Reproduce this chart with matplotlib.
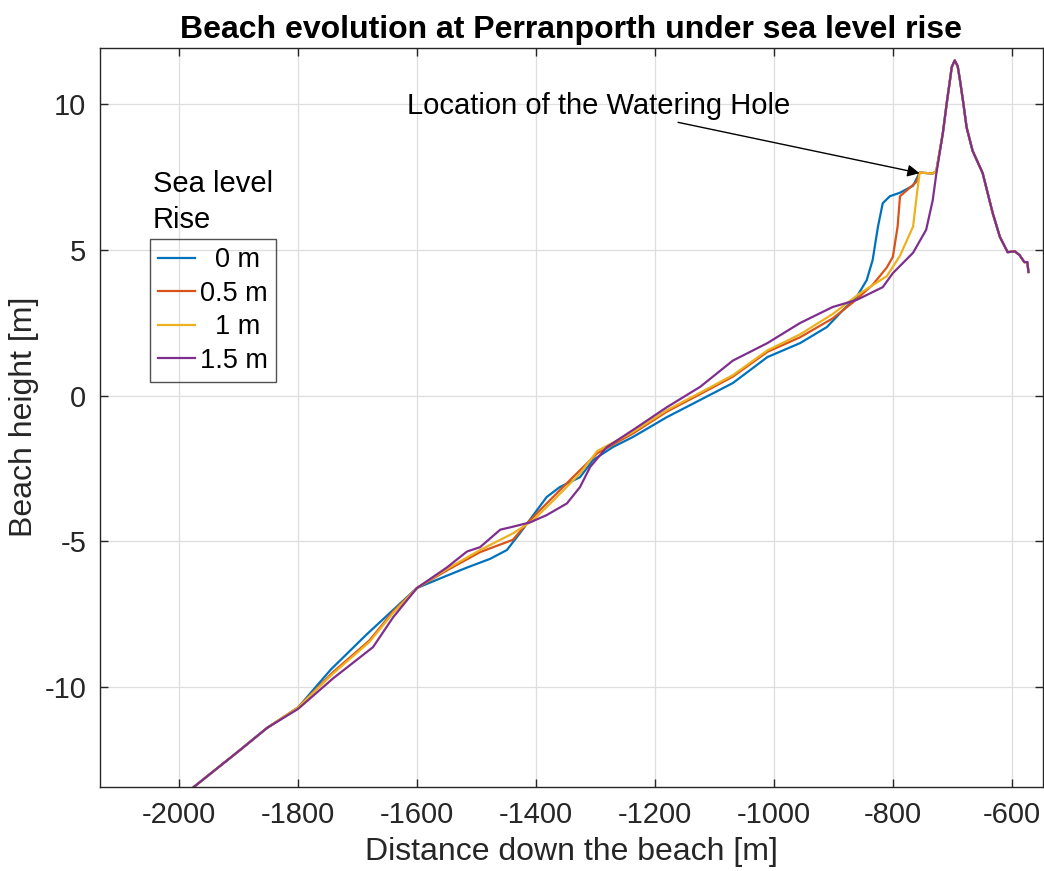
import numpy as np
import matplotlib
matplotlib.use('Agg')
import matplotlib.pyplot as plt

plt.rcParams['font.family'] = ['Liberation Sans', 'DejaVu Sans']
plt.rcParams['axes.unicode_minus'] = False

# profile shared by every run landward of the watering hole
tail_x = [-716, -709, -704, -701, -696, -691, -687, -682, -676, -666, -649, -632, -620, -607, -595, -587, -579, -574, -572]
tail_y = [9.0, 10.1, 10.82, 11.27, 11.5, 11.3, 10.8, 10.1, 9.2, 8.4, 7.63, 6.25, 5.44, 4.92, 4.95, 4.82, 4.58, 4.58, 4.24]

# 0 m
x0 = [-1992, -1900, -1852, -1800, -1745, -1685, -1640, -1600, -1556, -1516, -1477, -1449, -1427, -1402,
      -1382, -1360, -1326, -1304, -1271, -1237, -1180, -1124, -1069, -1011, -956, -911, -884, -861,
      -844, -834, -825, -817, -805, -788, -766, -755, -733, -727]
y0 = [-13.7, -12.2, -11.4, -10.7, -9.4, -8.2, -7.35, -6.6, -6.23, -5.9, -5.6, -5.3, -4.72, -4.03,
      -3.48, -3.14, -2.8, -2.21, -1.77, -1.42, -0.74, -0.15, 0.43, 1.32, 1.8, 2.35, 2.93, 3.38,
      3.96, 4.65, 5.8, 6.6, 6.84, 6.96, 7.2, 7.65, 7.62, 7.7]

# 0.5 m
x05 = [-1992, -1900, -1852, -1800, -1742, -1680, -1640, -1600, -1550, -1494, -1439, -1415, -1382, -1338,
       -1297, -1237, -1180, -1124, -1069, -1011, -956, -901, -867, -834, -810, -800, -792, -788,
       -771, -760, -755, -733, -727]
y05 = [-13.7, -12.2, -11.4, -10.7, -9.5, -8.4, -7.4, -6.6, -6.0, -5.37, -4.95, -4.38, -3.7, -2.8,
       -1.98, -1.3, -0.55, 0.05, 0.65, 1.5, 2.0, 2.65, 3.2, 3.8, 4.4, 4.76, 5.8, 6.84,
       7.14, 7.34, 7.65, 7.62, 7.7]

# 1 m
x1 = [-1992, -1900, -1852, -1800, -1742, -1680, -1640, -1600, -1550, -1494, -1439, -1405, -1371, -1326,
      -1297, -1237, -1180, -1124, -1069, -1011, -956, -901, -856, -810, -788, -766, -760, -755,
      -733, -727]
y1 = [-13.7, -12.2, -11.4, -10.7, -9.55, -8.45, -7.45, -6.6, -5.95, -5.3, -4.73, -4.28, -3.6, -2.67,
      -1.9, -1.25, -0.5, 0.1, 0.7, 1.55, 2.1, 2.8, 3.5, 4.1, 4.8, 5.8, 6.84, 7.65,
      7.62, 7.7]

# 1.5 m
x15 = [-1992, -1900, -1852, -1800, -1741, -1674, -1640, -1600, -1550, -1516, -1494, -1460, -1439, -1410,
       -1382, -1348, -1326, -1309, -1281, -1237, -1180, -1124, -1069, -1011, -956, -901, -861, -817,
       -800, -766, -744, -733, -727]
y15 = [-13.7, -12.2, -11.4, -10.75, -9.7, -8.63, -7.6, -6.6, -5.9, -5.35, -5.2, -4.6, -4.5, -4.35,
       -4.1, -3.7, -3.14, -2.45, -1.77, -1.18, -0.4, 0.3, 1.2, 1.8, 2.49, 3.04, 3.28, 3.72,
       4.2, 4.9, 5.69, 6.7, 7.6]

labels = ['  0 m', '0.5 m', '  1 m', '1.5 m']
colors = ['#0072BD', '#D95319', '#EDB120', '#7E2F8E']
runs = [(x0, y0), (x05, y05), (x1, y1), (x15, y15)]

fig = plt.figure(figsize=(10.44, 8.71), dpi=100)
ax = fig.add_axes([0.0958, 0.0964, 0.903, 0.849])

for (x, y), c, lab in zip(runs, colors, labels):
    ax.plot(x + tail_x, y + tail_y, color=c, lw=1.6, label=lab)

ax.set_xlim(-2133, -548)
ax.set_ylim(-13.43, 11.94)
ax.set_xticks(np.arange(-2000, -599, 200))
ax.set_yticks([-10, -5, 0, 5, 10])
ax.grid(True, color='#dedede', lw=0.9)
ax.set_axisbelow(True)
ax.tick_params(direction='in', length=6, width=1, top=True, right=True,
               labelsize=21, colors='#262626', pad=10)
for s in ax.spines.values():
    s.set_color('#262626')
    s.set_linewidth(1.0)

ax.set_xlabel('Distance down the beach [m]', fontsize=23, color='#262626', labelpad=6)
ax.set_ylabel('Beach height [m]', fontsize=23, color='#262626', labelpad=4)
ax.set_title('Beach evolution at Perranporth under sea level rise', fontsize=23,
             fontweight='bold', pad=7)

ax.annotate('Location of the Watering Hole', xy=(-755, 7.63), xytext=(-973, 9.95),
            ha='right', va='center', fontsize=21,
            arrowprops=dict(arrowstyle='-|>', color='k', lw=1, mutation_scale=18,
                            shrinkA=0, shrinkB=0))

leg = ax.legend(loc='upper left', bbox_to_anchor=(150 / 1044, 1 - 239 / 871),
                bbox_transform=fig.transFigure, fontsize=19.5, frameon=True,
                fancybox=False, handlelength=1.35, handletextpad=0.2,
                labelspacing=0.28, borderpad=0.3, borderaxespad=0)
leg.get_frame().set_facecolor('none')
leg.get_frame().set_edgecolor('#262626')
leg.get_frame().set_linewidth(1.0)
fig.text(153 / 1044, 1 - 170 / 871, 'Sea level\nRise', fontsize=21, ha='left', va='top',
         linespacing=1.35)

fig.savefig('out.png', dpi=100)
